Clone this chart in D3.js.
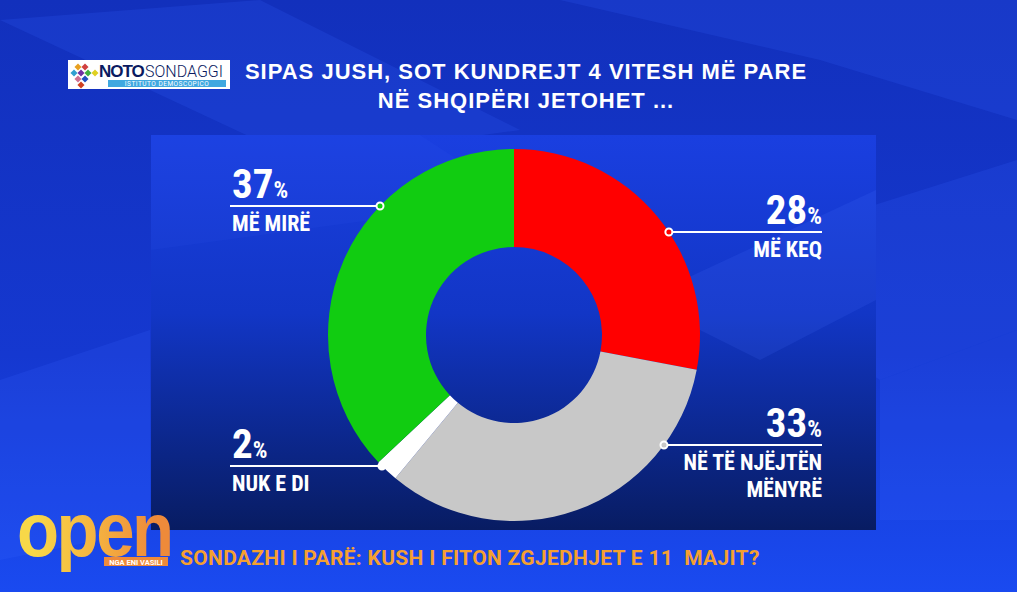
<!DOCTYPE html>
<html>
<head>
<meta charset="utf-8">
<script src="https://cdn.jsdelivr.net/npm/d3@7"></script>
<style>
  body { margin: 0; background: #1236c8; overflow: hidden; }
  svg { display: block; }
</style>
</head>
<body>
<script>
// Chart data
const categories = ["MË KEQ", "NË TË NJËJTËN MËNYRË", "NUK E DI", "MË MIRË"];
const values = [28, 33, 2, 37];
const sliceColors = ["#ff0000", "#c8c8c8", "#ffffff", "#11cc11"];
// label layout: side and leader line y for each slice, label lines
const labelSide = ["right", "right", "left", "left"];
const labelLineY = [232, 445, 466, 206];
const labelLines = [["MË KEQ"], ["NË TË NJËJTËN", "MËNYRË"], ["NUK E DI"], ["MË MIRË"]];

const titleLines = ["SIPAS JUSH, SOT KUNDREJT 4 VITESH MË PARE", "NË SHQIPËRI JETOHET ..."];
const tickerText = "SONDAZHI I PARË: KUSH I FITON ZGJEDHJET E 11  MAJIT?";

const w = 1017, h = 592;
const cx = 514, cy = 335;
const outerR = 186, innerR = 88;
const narrow = "'Liberation Sans Narrow', 'Roboto Condensed', 'Roboto', sans-serif";

const svg = d3.select("body").append("svg")
  .attr("width", w)
  .attr("height", h);

const defs = svg.append("defs");

// Background gradient
const bg = defs.append("linearGradient").attr("id", "bg")
  .attr("x1", 0).attr("y1", 0).attr("x2", 0).attr("y2", 1);
bg.append("stop").attr("offset", "0%").attr("stop-color", "#1230bc");
bg.append("stop").attr("offset", "60%").attr("stop-color", "#1538d0");
bg.append("stop").attr("offset", "100%").attr("stop-color", "#1a4af0");

svg.append("rect").attr("width", w).attr("height", h).attr("fill", "url(#bg)");

// diagonal light strips in the background
const strips = [
  [[0, 20], [260, 0], [520, 130], [300, 160]],
  [[560, 0], [1017, 0], [1017, 120], [820, 60]],
  [[700, 260], [1017, 160], [1017, 330], [880, 380]],
  [[0, 380], [150, 330], [150, 530], [0, 560]],
  [[880, 380], [1017, 330], [1017, 520], [880, 520]]
];
svg.selectAll("polygon.strip")
  .data(strips)
  .enter()
  .append("polygon")
  .attr("class", "strip")
  .attr("points", d => d.map(p => p.join(",")).join(" "))
  .attr("fill", "#3a62ff")
  .attr("opacity", 0.18);

// Panel behind the chart
const panel = defs.append("linearGradient").attr("id", "panel")
  .attr("x1", 0).attr("y1", 0).attr("x2", 0).attr("y2", 1);
panel.append("stop").attr("offset", "0%").attr("stop-color", "#1a3fe0");
panel.append("stop").attr("offset", "45%").attr("stop-color", "#1236c6");
panel.append("stop").attr("offset", "75%").attr("stop-color", "#0c2890");
panel.append("stop").attr("offset", "100%").attr("stop-color", "#081c62");

svg.append("rect")
  .attr("x", 151).attr("y", 135)
  .attr("width", 725).attr("height", 395)
  .attr("fill", "url(#panel)");

// light diagonal shapes inside the panel (right side)
svg.append("polygon")
  .attr("points", "640,300 876,190 876,300 760,360")
  .attr("fill", "#4a70ff").attr("opacity", 0.15);
svg.append("polygon")
  .attr("points", "151,135 420,135 520,200 151,250")
  .attr("fill", "#3a60ff").attr("opacity", 0.08);

// Title
svg.append("g").selectAll("text")
  .data(titleLines)
  .enter()
  .append("text")
  .attr("x", 526)
  .attr("y", (d, i) => 79 + i * 29)
  .attr("text-anchor", "middle")
  .attr("fill", "#ffffff")
  .style("font-family", "'Liberation Sans', Arial, sans-serif")
  .style("font-weight", "bold")
  .style("font-size", "22px")
  .style("letter-spacing", "1px")
  .text(d => d);

// NOTO SONDAGGI logo
const logo = svg.append("g").attr("transform", "translate(68,60)");
logo.append("rect").attr("width", 162).attr("height", 29).attr("fill", "#ffffff");
const dotColors = ["#e8a020", "#d04040", "#30a0d0", "#7030a0", "#40b040", "#e0d020", "#d07090", "#2050c0", "#d04020"];
const dotPos = [[10, 7], [17, 7], [6, 13], [13, 13], [20, 13], [27, 13], [10, 19], [17, 19], [13, 25]];
logo.selectAll("rect.dot")
  .data(dotPos)
  .enter()
  .append("rect")
  .attr("class", "dot")
  .attr("x", d => d[0] - 2.5).attr("y", d => d[1] - 2.5)
  .attr("width", 5).attr("height", 5)
  .attr("transform", d => `rotate(45,${d[0]},${d[1]})`)
  .attr("fill", (d, i) => dotColors[i]);
logo.append("text")
  .attr("x", 31).attr("y", 17)
  .attr("fill", "#0a1a60")
  .style("font-family", "'Liberation Sans', Arial, sans-serif")
  .style("font-weight", "bold")
  .style("font-size", "17px")
  .style("letter-spacing", "-1px")
  .text("NOTO");
logo.append("text")
  .attr("x", 77).attr("y", 17)
  .attr("fill", "#0a1a60")
  .style("font-family", "'Roboto', sans-serif")
  .style("font-weight", "300")
  .style("font-size", "16px")
  .text("SONDAGGI");
logo.append("rect")
  .attr("x", 40).attr("y", 20).attr("width", 118).attr("height", 7)
  .attr("fill", "#40a8e0");
logo.append("text")
  .attr("x", 99).attr("y", 26)
  .attr("text-anchor", "middle")
  .attr("fill", "#ffffff")
  .style("font-family", "'Roboto', sans-serif")
  .style("font-size", "6.5px")
  .style("letter-spacing", "0.5px")
  .text("ISTITUTO DEMOSCOPICO");

// Donut
const pie = d3.pie().sort(null).value(d => d);
const arcs = pie(values);
const arc = d3.arc().innerRadius(innerR).outerRadius(outerR);

const chart = svg.append("g").attr("transform", `translate(${cx},${cy})`);
chart.selectAll("path")
  .data(arcs)
  .enter()
  .append("path")
  .attr("d", arc)
  .attr("fill", (d, i) => sliceColors[i]);

// Labels
const labels = svg.append("g");
arcs.forEach((a, i) => {
  const ly = labelLineY[i];
  const dy = ly - cy;
  const dx = Math.sqrt(outerR * outerR - dy * dy);
  const right = labelSide[i] === "right";
  const dotX = right ? cx + dx : cx - dx;
  const endX = right ? 822 : 230;
  const textX = right ? 822 : 232;
  const anchor = right ? "end" : "start";

  labels.append("line")
    .attr("x1", dotX).attr("x2", endX)
    .attr("y1", ly).attr("y2", ly)
    .attr("stroke", "#ffffff").attr("stroke-width", 2);
  labels.append("circle")
    .attr("cx", dotX).attr("cy", ly).attr("r", 3.5)
    .attr("fill", sliceColors[i])
    .attr("stroke", "#ffffff").attr("stroke-width", 2);

  // number + smaller percent sign
  const pct = labels.append("text")
    .attr("x", textX)
    .attr("y", ly - 8)
    .attr("text-anchor", anchor)
    .attr("fill", "#ffffff")
    .style("font-family", narrow)
    .style("font-weight", "bold");
  pct.append("tspan").style("font-size", "41px").text(values[i]);
  pct.append("tspan").style("font-size", "23px").text("%");

  labelLines[i].forEach((t, j) => {
    labels.append("text")
      .attr("x", textX)
      .attr("y", ly + 25 + j * 27)
      .attr("text-anchor", anchor)
      .attr("fill", "#ffffff")
      .style("font-family", narrow)
      .style("font-weight", "bold")
      .style("font-size", "22px")
      .text(t);
  });
});

// OPEN logo bottom left
const og = defs.append("linearGradient").attr("id", "og")
  .attr("gradientUnits", "userSpaceOnUse")
  .attr("x1", 20).attr("y1", 0).attr("x2", 168).attr("y2", 0);
og.append("stop").attr("offset", "0%").attr("stop-color", "#f8d848");
og.append("stop").attr("offset", "55%").attr("stop-color", "#f4b040");
og.append("stop").attr("offset", "100%").attr("stop-color", "#ee8a3a");

svg.append("g")
  .attr("transform", "translate(17,556) scale(0.82,0.9)")
  .append("text")
  .attr("fill", "url(#og)")
  .style("font-family", "'Liberation Sans', Arial, sans-serif")
  .style("font-weight", "bold")
  .style("font-size", "84px")
  .style("letter-spacing", "-3px")
  .text("open");
svg.append("rect")
  .attr("x", 104).attr("y", 557).attr("width", 64).attr("height", 9)
  .attr("fill", "#ee8a3a");
svg.append("text")
  .attr("x", 136).attr("y", 564.5)
  .attr("text-anchor", "middle")
  .attr("fill", "#ffffff")
  .style("font-family", "'Roboto', sans-serif")
  .style("font-weight", "bold")
  .style("font-size", "7.5px")
  .text("NGA ENI VASILI");

// Ticker text
svg.append("text")
  .attr("x", 180).attr("y", 565)
  .attr("fill", "#f5a030")
  .attr("xml:space", "preserve")
  .style("white-space", "pre")
  .style("font-family", "'Roboto', sans-serif")
  .style("font-weight", "bold")
  .style("font-size", "21px")
  .style("letter-spacing", "0.3px")
  .text(tickerText);
</script>
</body>
</html>
